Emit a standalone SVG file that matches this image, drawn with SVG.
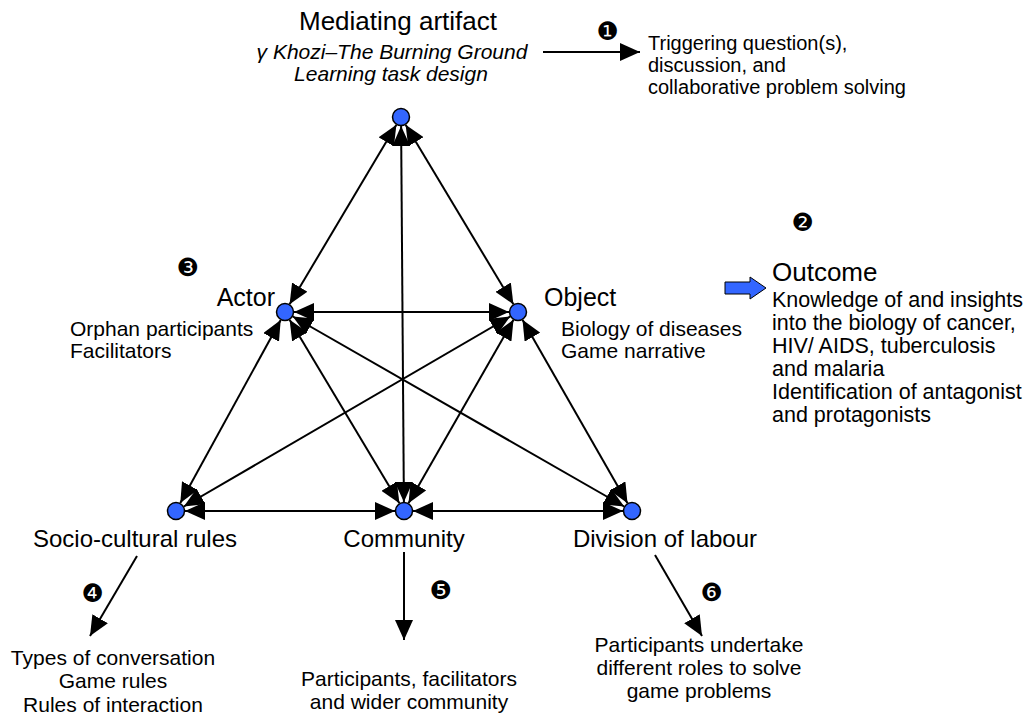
<svg xmlns="http://www.w3.org/2000/svg" width="1035" height="716" viewBox="0 0 1035 716">
<style>
.lbl{font-family:"Liberation Sans",Arial,sans-serif;font-size:25px;fill:#000}
.big{font-size:26px}
.bot{font-size:24px}
.sub{font-family:"Liberation Sans",Arial,sans-serif;font-size:21px;fill:#000}
.tr{font-size:20px}
.oc{font-size:21.5px}
.it{font-style:italic}
.num{font-family:"DejaVu Sans",sans-serif;font-size:25px;fill:#000}
.node{fill:#3366ff;stroke:#000;stroke-width:1.5}
.con line{stroke:#000;stroke-width:2;fill:none}
.both{marker-start:url(#ah);marker-end:url(#ah)}
.one{marker-end:url(#ah)}
</style>
<defs>
<marker id="ah" viewBox="0 0 20 18" refX="20" refY="9" markerWidth="20" markerHeight="18" markerUnits="userSpaceOnUse" orient="auto-start-reverse">
<path d="M0,0 L20,9 L0,18 z" fill="#000"/>
</marker>
</defs>
<rect width="1035" height="716" fill="#fff"/>
<g id="connectors" class="con">
<line class="both" x1="396.4" y1="124.7" x2="289.6" y2="304.3"/>
<line class="both" x1="405.6" y1="124.7" x2="513.4" y2="304.3"/>
<line class="both" x1="401.1" y1="126" x2="403.9" y2="502"/>
<line class="both" x1="294" y1="312" x2="509" y2="312"/>
<line class="both" x1="280.7" y1="319.9" x2="180.3" y2="503.1"/>
<line class="both" x1="289.6" y1="319.7" x2="399.4" y2="503.3"/>
<line class="both" x1="292.8" y1="316.5" x2="624.2" y2="506.5"/>
<line class="both" x1="510.2" y1="316.5" x2="183.8" y2="506.5"/>
<line class="both" x1="513.5" y1="319.8" x2="408.5" y2="503.2"/>
<line class="both" x1="522.5" y1="319.8" x2="627.5" y2="503.2"/>
<line class="both" x1="185" y1="511" x2="395" y2="511"/>
<line class="both" x1="413" y1="511" x2="623" y2="511"/>
<line class="one" x1="543" y1="52" x2="640" y2="52"/>
<line class="one" x1="137" y1="556" x2="90" y2="636"/>
<line class="one" x1="404" y1="552" x2="404" y2="640"/>
<line class="one" x1="655" y1="555" x2="702" y2="636"/>
</g>
<g id="mediating">
<circle class="node" cx="401" cy="117" r="8.5"/>
<text class="lbl big" x="398" y="30" text-anchor="middle">Mediating artifact</text>
<text class="sub it" x="392" y="59" text-anchor="middle">γ Khozi–The Burning Ground</text>
<text class="sub it" x="391" y="81" text-anchor="middle">Learning task design</text>
</g>
<g id="trigger">
<text class="num" x="596.5" y="40">❶</text>
<text class="sub tr" x="648" y="50">Triggering question(s),</text>
<text class="sub tr" x="648" y="72">discussion, and</text>
<text class="sub tr" x="648" y="94">collaborative problem solving</text>
</g>
<g id="actor">
<circle class="node" cx="285" cy="312" r="8.5"/>
<text class="num" x="176.5" y="276">❸</text>
<text class="lbl" x="275" y="306" text-anchor="end">Actor</text>
<text class="sub" x="70" y="336">Orphan participants</text>
<text class="sub" x="70" y="358">Facilitators</text>
</g>
<g id="object">
<circle class="node" cx="518" cy="312" r="8.5"/>
<text class="lbl" x="544" y="306">Object</text>
<text class="sub" x="561" y="336">Biology of diseases</text>
<text class="sub" x="561" y="358">Game narrative</text>
</g>
<g id="outcome">
<text class="num" x="791.5" y="231">❷</text>
<path d="M725,282 H750 V277 L766,288 L750,299 V294 H725 Z" fill="#3366ff" stroke="#000" stroke-width="1"/>
<text class="lbl big" x="772" y="281">Outcome</text>
<text class="sub oc" x="772" y="307">Knowledge of and insights</text>
<text class="sub oc" x="772" y="330">into the biology of cancer,</text>
<text class="sub oc" x="772" y="353">HIV/ AIDS, tuberculosis</text>
<text class="sub oc" x="772" y="376">and malaria</text>
<text class="sub oc" x="772" y="399">Identification of antagonist</text>
<text class="sub oc" x="772" y="422">and protagonists</text>
</g>
<g id="socio">
<circle class="node" cx="176" cy="511" r="8.5"/>
<text class="lbl bot" x="135" y="547" text-anchor="middle">Socio-cultural rules</text>
<text class="num" x="81.5" y="602">❹</text>
<text class="sub" x="113" y="665" text-anchor="middle">Types of conversation</text>
<text class="sub" x="113" y="688" text-anchor="middle">Game rules</text>
<text class="sub" x="113" y="712" text-anchor="middle">Rules of interaction</text>
</g>
<g id="community">
<circle class="node" cx="404" cy="511" r="8.5"/>
<text class="lbl bot" x="404" y="547" text-anchor="middle">Community</text>
<text class="num" x="429.5" y="599">❺</text>
<text class="sub" x="409" y="686" text-anchor="middle">Participants, facilitators</text>
<text class="sub" x="409" y="709" text-anchor="middle">and wider community</text>
</g>
<g id="division">
<circle class="node" cx="632" cy="511" r="8.5"/>
<text class="lbl bot" x="665" y="547" text-anchor="middle">Division of labour</text>
<text class="num" x="700.5" y="601">❻</text>
<text class="sub" x="699" y="652" text-anchor="middle">Participants undertake</text>
<text class="sub" x="699" y="675" text-anchor="middle">different roles to solve</text>
<text class="sub" x="699" y="698" text-anchor="middle">game problems</text>
</g>
</svg>
